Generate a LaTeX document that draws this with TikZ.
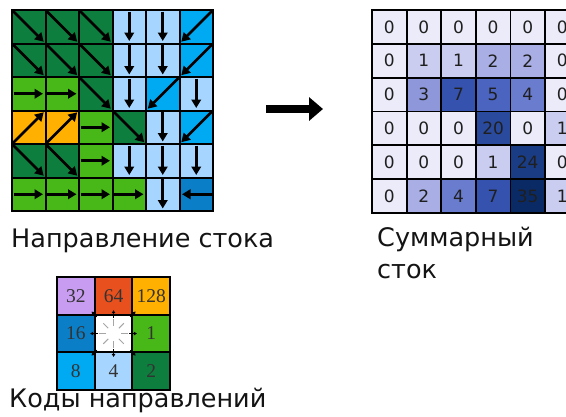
\documentclass[tikz,border=0pt]{standalone}
\usepackage{fontspec}
\setmainfont{DejaVu Sans}
\newfontfamily\serifnum{Liberation Serif}
\usetikzlibrary{arrows.meta,calc}
% direction colours
\definecolor{d1}{HTML}{48B818}
\definecolor{d2}{HTML}{0E7E3E}
\definecolor{d4}{HTML}{A6D6FF}
\definecolor{d8}{HTML}{00AAF2}
\definecolor{d16}{HTML}{0A7FC8}
\definecolor{d32}{HTML}{C89CF0}
\definecolor{d64}{HTML}{E8501E}
\definecolor{d128}{HTML}{FFB000}
% accumulation colours
\definecolor{v0}{HTML}{EBEBFA}
\definecolor{v1}{HTML}{CACDF0}
\definecolor{v2}{HTML}{A9AFE4}
\definecolor{v3}{HTML}{8D97D9}
\definecolor{v4}{HTML}{6A7CCE}
\definecolor{v5}{HTML}{4A64C0}
\definecolor{v7}{HTML}{3552AE}
\definecolor{v20}{HTML}{2A4A9E}
\definecolor{v24}{HTML}{1A3C84}
\definecolor{v35}{HTML}{0A2A66}
% arrow start / end anchors per code
\expandafter\def\csname sa1\endcsname{west}
\expandafter\def\csname ea1\endcsname{east}
\expandafter\def\csname sa2\endcsname{north west}
\expandafter\def\csname ea2\endcsname{south east}
\expandafter\def\csname sa4\endcsname{north}
\expandafter\def\csname ea4\endcsname{south}
\expandafter\def\csname sa8\endcsname{north east}
\expandafter\def\csname ea8\endcsname{south west}
\expandafter\def\csname sa16\endcsname{east}
\expandafter\def\csname ea16\endcsname{west}
\expandafter\def\csname sa128\endcsname{south west}
\expandafter\def\csname ea128\endcsname{north east}
\tikzset{
  lcell/.style={draw=black, line width=2pt, minimum size=33.5pt, inner sep=0pt, outer sep=0pt},
  rcell/.style={draw=black, line width=1.8pt, minimum width=34.6pt, minimum height=33.8pt,
    inner sep=0pt, outer sep=0pt, font=\fontsize{17}{17}\selectfont, text=black!88},
  gcell/.style={draw=black, line width=2pt, minimum size=37.7pt, inner sep=0pt, outer sep=0pt,
    font=\serifnum\fontsize{19.5}{19.5}\selectfont, text=black!80},
  flow/.style={line width=2.6pt, -{Triangle[length=8.5pt,width=9.5pt]}},
  tinyarr/.style={line width=0.9pt, -{Triangle[length=3pt,width=3.5pt]}},
  ray/.style={draw=black!35, line width=1pt},
  bigarrow/.style={line width=7.5pt, -{Triangle[length=14pt,width=23pt]}},
  lbl/.style={font=\fontsize{25.5}{32}\selectfont, inner sep=0pt, text=black!92},
}
\begin{document}
\begin{tikzpicture}[x=1pt,y=-1pt]
\useasboundingbox (0,0) rectangle (566,416);
% ---------- flow direction grid ----------
\foreach \r/\row in {1/{2,2,2,4,4,8},2/{2,2,2,4,4,8},3/{1,1,2,4,8,4},4/{128,128,1,2,4,8},5/{2,2,1,4,4,4},6/{1,1,1,1,4,16}}{
  \foreach \d [count=\c] in \row {
    \node[lcell, fill=d\d] (L-\r-\c) at ({12+(\c-0.5)*33.5},{10+(\r-0.5)*33.5}) {};
  }
}
\foreach \r/\row in {1/{2,2,2,4,4,8},2/{2,2,2,4,4,8},3/{1,1,2,4,8,4},4/{128,128,1,2,4,8},5/{2,2,1,4,4,4},6/{1,1,1,1,4,16}}{
  \foreach \d [count=\c] in \row {
    \edef\sa{\csname sa\d\endcsname}\edef\ea{\csname ea\d\endcsname}
    \draw[flow] ($(L-\r-\c.\sa)!1.5pt!(L-\r-\c.center)$) -- ($(L-\r-\c.\ea)!2.5pt!(L-\r-\c.center)$);
  }
}
% ---------- big arrow ----------
\coordinate (arrS) at (266,109);
\coordinate (arrE) at (323,109);
\draw[bigarrow] (arrS) -- (arrE);
% ---------- flow accumulation grid ----------
\begin{scope}
\clip (0,0) rectangle (566,416);
\foreach \r/\row in {1/{0,0,0,0,0,0},2/{0,1,1,2,2,0},3/{0,3,7,5,4,0},4/{0,0,0,20,0,1},5/{0,0,0,1,24,0},6/{0,2,4,7,35,1}}{
  \foreach \v [count=\c] in \row {
    \node[rcell, fill=v\v] (R-\r-\c) at ({372+(\c-0.5)*34.6},{10+(\r-0.5)*33.8}) {\v};
  }
}
\end{scope}
% ---------- direction codes legend ----------
\node[gcell, fill=d32]  (G-1-1) at ({57+0.5*37.7},{277+0.5*37.7}) {32};
\node[gcell, fill=d64]  (G-1-2) at ({57+1.5*37.7},{277+0.5*37.7}) {64};
\node[gcell, fill=d128] (G-1-3) at ({57+2.5*37.7},{277+0.5*37.7}) {128};
\node[gcell, fill=d16]  (G-2-1) at ({57+0.5*37.7},{277+1.5*37.7}) {16};
\node[gcell, fill=white](G-2-2) at ({57+1.5*37.7},{277+1.5*37.7}) {};
\node[gcell, fill=d1]   (G-2-3) at ({57+2.5*37.7},{277+1.5*37.7}) {1};
\node[gcell, fill=d8]   (G-3-1) at ({57+0.5*37.7},{277+2.5*37.7}) {8};
\node[gcell, fill=d4]   (G-3-2) at ({57+1.5*37.7},{277+2.5*37.7}) {4};
\node[gcell, fill=d2]   (G-3-3) at ({57+2.5*37.7},{277+2.5*37.7}) {2};
\foreach \ang in {0,45,...,315}
  \draw[ray] ($(G-2-2.center)+(\ang:7.5)$) -- ($(G-2-2.center)+(\ang:14.5)$);
\foreach \a in {north,south,east,west,north east,north west,south east,south west}
  \draw[tinyarr] ($(G-2-2.\a)!3pt!(G-2-2.center)$) -- ($(G-2-2.\a)!-4.5pt!(G-2-2.center)$);
% ---------- labels ----------
\node[lbl, anchor=base west] (t1) at (11,247) {Направление стока};
\node[lbl, anchor=base west] (t2) at (377,246) {Суммарный};
\node[lbl, anchor=base west] (t2b) at (377,278) {сток};
\node[lbl, anchor=base west] (t3) at (9,407) {Коды направлений};
\end{tikzpicture}
\end{document}
